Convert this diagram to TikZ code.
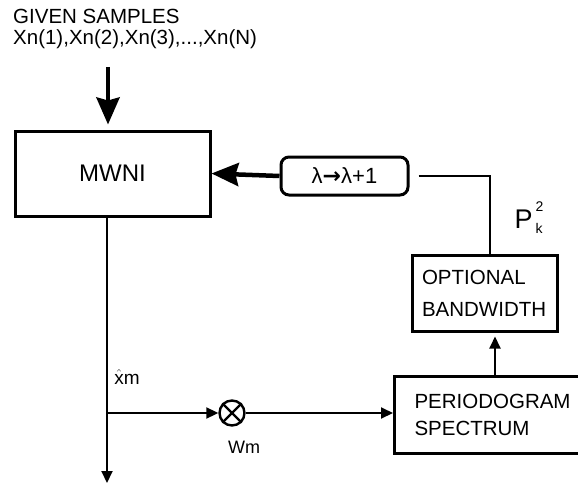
\documentclass[tikz,border=0pt]{standalone}
\usepackage{amsmath}
\usepackage{fontspec}
\setmainfont{Liberation Sans}
\newfontfamily\arrowfont{DejaVu Sans}
\usetikzlibrary{arrows.meta}

\begin{document}
\begin{tikzpicture}[x=1pt,y=-1pt,font=\fontsize{20.5}{27}\selectfont,
  box/.style={draw,line width=3pt,inner sep=0pt},
  thin/.style={line width=2pt},
  fat/.style={line width=4.5pt,-{Stealth[length=27pt,width=23pt,inset=3pt]}},
  tip/.style={thin,-{Triangle[length=12pt,width=11pt]}}]
  \useasboundingbox (0,0) rectangle (578,487);
  \node[anchor=west,inner sep=0pt] (given) at (13,16) {GIVEN SAMPLES};
  \node[anchor=west,inner sep=0pt] (samples) at (13,39) {Xn(1),Xn(2),Xn(3),...,Xn(N)};
  \node[box,minimum width=195pt,minimum height=85pt,font=\fontsize{24}{28}\selectfont] (mwni) at (112.5,173.5) {MWNI};
  \node[box,rounded corners=8pt,minimum width=127pt,minimum height=38pt,font=\fontsize{22}{26}\selectfont] (lam) at (344.5,176) {λ{\arrowfont\bfseries →}λ+1};
  \node[box,minimum width=145pt,minimum height=76pt,text width=125pt,align=left,font=\fontsize{20.5}{32}\selectfont] (opt) at (484.5,293) {OPTIONAL\\BANDWIDTH};
  \node[box,anchor=west,minimum height=77pt,inner xsep=20pt,text width=167pt,align=left] (per) at (393,414.5) {PERIODOGRAM\\SPECTRUM};
  \node[draw,circle,line width=2.4pt,minimum size=25pt,inner sep=0pt] (mult) at (232,413) {};
  \draw[line width=2.4pt] (mult.north west) -- (mult.south east) (mult.north east) -- (mult.south west);
  \node[font=\fontsize{18}{18}\selectfont] (wm) at (244,447) {Wm};
  \node[font=\fontsize{19}{19}\selectfont] (xm) at (127,377) {$\hat{\text{x}}$m};
  \node (pk) at (529,218) {\fontsize{27}{27}\selectfont P\hspace{3pt}\raisebox{-5pt}{\fontsize{14}{22}\selectfont\begin{tabular}[b]{@{}l@{}}2\\k\end{tabular}}};

  \coordinate (src) at (108,67);
  \coordinate (turn) at (490,0);
  \coordinate (rise) at (495,0);
  \coordinate (out) at (107,483);
  \coordinate (br) at (107,413);
  \draw[fat,shorten >=5pt] (src) -- (src |- mwni.north);
  \draw[fat] (lam.west) -- (mwni.east);
  \draw[thin,shorten <=9pt] (lam.east) -| (turn |- opt.north);
  \draw[tip,shorten >=4pt] (rise |- per.north) -- (rise |- opt.south);
  \draw[tip] (mwni.south -| out) -- (out);
  \draw[tip] (br) -- (mult.west);
  \draw[tip] (mult.east) -- (mult.east -| per.west);
\end{tikzpicture}
\end{document}
